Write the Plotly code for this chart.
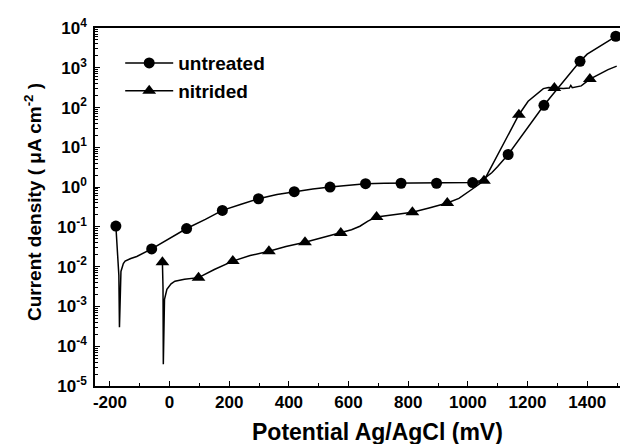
import plotly.graph_objects as go

# ---- data (potential mV, current density uA/cm2) ----
untreated_line_x = [-180, -175, -170, -168, -166, -163, -155, -149, -130, -110, -60, 0, 57, 120, 177,
                    240, 298, 360, 418, 480, 538, 600, 657, 720, 776, 840, 895, 960, 1016, 1040,
                    1060, 1080, 1100, 1135, 1160, 1190, 1220, 1255, 1290, 1320, 1350, 1376, 1400,
                    1420, 1440, 1460, 1480, 1496]
untreated_line_y = [0.105, 0.03, 0.006, 3e-4, 3e-3, 7.6e-3, 0.012, 0.0138, 0.016, 0.018, 0.028, 0.05,
                    0.091, 0.155, 0.26, 0.37, 0.51, 0.65, 0.77, 0.9, 1.0, 1.12, 1.22, 1.25, 1.25,
                    1.25, 1.25, 1.25, 1.3, 1.45, 1.75, 2.3, 3.3, 6.6, 12, 24, 50, 114, 240, 450,
                    830, 1450, 2200, 2700, 3400, 4200, 5200, 6200]
untreated_mark_x = [-180, -60, 57, 177, 298, 418, 538, 657, 776, 895, 1016, 1135, 1255, 1376, 1496]
untreated_mark_y = [0.105, 0.028, 0.091, 0.26, 0.51, 0.77, 1.0, 1.22, 1.25, 1.25, 1.3, 6.6, 114, 1450, 6200]

nitrided_line_x = [-24, -22, -21, -20, -17, -9, 5, 18, 50, 97, 150, 212, 270, 333, 390, 454, 510,
                   574, 610, 638, 665, 694, 750, 814, 870, 931, 970, 996, 1020, 1054, 1080, 1110,
                   1140, 1171, 1202, 1230, 1253, 1270, 1290, 1320, 1340, 1345, 1350, 1365, 1380,
                   1409, 1440, 1470, 1499]
nitrided_line_y = [0.013, 0.003, 3.5e-5, 4e-4, 1.5e-3, 2.7e-3, 3.7e-3, 4.3e-3, 4.8e-3, 5.3e-3,
                   8.5e-3, 0.0138, 0.019, 0.0245, 0.032, 0.041, 0.053, 0.07, 0.085, 0.104, 0.14,
                   0.178, 0.2, 0.233, 0.3, 0.40, 0.52, 0.7, 0.95, 1.45, 3.4, 9, 24, 66, 144, 210,
                   300, 320, 310, 300, 310, 360, 315, 330, 350, 520, 700, 900, 1100]
nitrided_mark_x = [-24, 97, 212, 333, 454, 574, 694, 814, 931, 1054, 1171, 1290, 1409]
nitrided_mark_y = [0.013, 5.3e-3, 0.0138, 0.0245, 0.041, 0.07, 0.178, 0.233, 0.40, 1.45, 66, 310, 520]

series_names = ["untreated", "nitrided"]

x_tickvals = [-200, 0, 200, 400, 600, 800, 1000, 1200, 1400]
x_ticktext = ["-200", "0", "200", "400", "600", "800", "1000", "1200", "1400"]
x_minorvals = [-100, 100, 300, 500, 700, 900, 1100, 1300, 1500]
y_exponents = [-5, -4, -3, -2, -1, 0, 1, 2, 3, 4]

FONT = "Liberation Sans, Arial, Helvetica, sans-serif"
BLACK = "black"

fig = go.Figure()

# lines
fig.add_trace(go.Scatter(x=untreated_line_x, y=untreated_line_y, mode="lines",
                         line=dict(color=BLACK, width=1.5), showlegend=False, hoverinfo="skip"))
fig.add_trace(go.Scatter(x=nitrided_line_x, y=nitrided_line_y, mode="lines",
                         line=dict(color=BLACK, width=1.5), showlegend=False, hoverinfo="skip"))
# markers
fig.add_trace(go.Scatter(x=untreated_mark_x, y=untreated_mark_y, mode="markers",
                         marker=dict(symbol="circle", size=11, color=BLACK), showlegend=False))
fig.add_trace(go.Scatter(x=nitrided_mark_x, y=nitrided_mark_y, mode="markers",
                         marker=dict(symbol="triangle-up", size=12, color=BLACK), showlegend=False))
# legend entries
fig.add_trace(go.Scatter(x=[None], y=[None], mode="lines+markers", name=series_names[0],
                         legendgroup="a",
                         line=dict(color=BLACK, width=1.5), marker=dict(symbol="circle", size=11, color=BLACK)))
fig.add_trace(go.Scatter(x=[None], y=[None], mode="lines+markers", name=series_names[1],
                         legendgroup="b",
                         line=dict(color=BLACK, width=1.5), marker=dict(symbol="triangle-up", size=12, color=BLACK)))

y_tickvals = [10.0 ** e for e in y_exponents]
y_ticktext = ["10<sup>%d</sup>" % e for e in y_exponents]
y_minorvals = [k * 10.0 ** e for e in y_exponents[:-1] for k in range(2, 10)]

fig.update_layout(
    width=620, height=444,
    margin=dict(l=95, r=0, t=28, b=58),
    paper_bgcolor="white", plot_bgcolor="white",
    font=dict(family=FONT, color=BLACK, size=17, weight="bold"),
    showlegend=True,
    legend=dict(x=0.048, y=0.955, xanchor="left", yanchor="top", bgcolor="rgba(0,0,0,0)",
                font=dict(size=19, family=FONT, weight="bold"), tracegroupgap=0,
                itemwidth=48),
    xaxis=dict(range=[-250, 1510], tickmode="array", tickvals=x_tickvals, ticktext=x_ticktext,
               ticks="inside", ticklen=5, tickwidth=1.2, tickcolor=BLACK,
               showline=True, linecolor=BLACK, linewidth=1.5, mirror=True,
               showgrid=False, zeroline=False, ticklabelstandoff=0,
               tickfont=dict(size=17, family=FONT, weight="bold"),
               minor=dict(tickmode="array", tickvals=x_minorvals, ticks="inside", ticklen=3,
                          tickwidth=1.2, tickcolor=BLACK, showgrid=False)),
    yaxis=dict(type="log", range=[-5, 4], tickmode="array", tickvals=y_tickvals, ticktext=y_ticktext,
               ticks="inside", ticklen=5, tickwidth=1.2, tickcolor=BLACK,
               showline=True, linecolor=BLACK, linewidth=1.5, mirror=False,
               showgrid=False, zeroline=False, ticklabelstandoff=3,
               tickfont=dict(size=17, family=FONT, weight="bold"),
               minor=dict(tickmode="array", tickvals=y_minorvals, ticks="inside", ticklen=3,
                          tickwidth=1, tickcolor=BLACK, showgrid=False)),
    annotations=[
        dict(text="Potential Ag/AgCl (mV)", xref="paper", yref="paper", x=0.539, y=-0.128,
             xanchor="center", yanchor="middle", showarrow=False,
             font=dict(size=23, family=FONT, weight="bold")),
        dict(text="Current density ( μA cm<sup>-2</sup> )", xref="paper", yref="paper",
             x=-0.118, y=0.514, xanchor="center", yanchor="middle", textangle=-90, showarrow=False,
             font=dict(size=19, family=FONT, weight="bold")),
    ],
)

fig.write_html("out.html", config={"displayModeBar": False},
               post_script="document.body.style.margin='0px';")
